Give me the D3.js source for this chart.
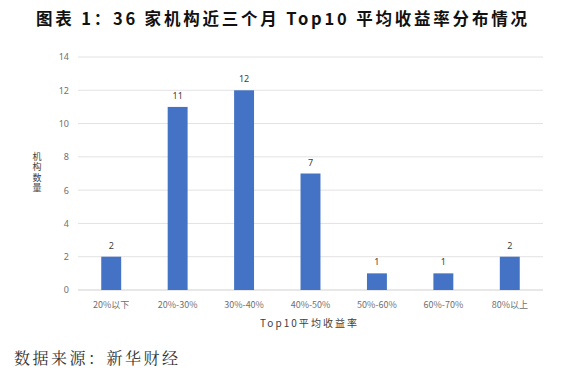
<!DOCTYPE html>
<html><head><meta charset="utf-8">
<script src="https://cdn.jsdelivr.net/npm/d3@7"></script>
<style>
body{margin:0;background:#fff;}
svg{display:block;}
</style></head>
<body><svg id="c" width="569" height="380"></svg>
<script>
const categories = ["20%以下","20%-30%","30%-40%","40%-50%","50%-60%","60%-70%","80%以上"];
const values = [2,11,12,7,1,1,2];
const yTicks = [0,2,4,6,8,10,12,14];
const titleText = "图表 1：36 家机构近三个月 Top10 平均收益率分布情况";
const xTitle = "Top10平均收益率";
const yTitle = "机构数量";
const sourceText = "数据来源：新华财经";

const svg = d3.select("#c");
const plotL = 78, plotR = 543, plotT = 57, plotB = 290;
const x = d3.scaleBand().domain(categories).range([plotL, plotR]).paddingInner(0.7).paddingOuter(0.35);
const y = d3.scaleLinear().domain([0,14]).range([plotB, plotT]);

svg.append("text").attr("x", 36).attr("y", 25)
  .attr("textLength", 491).attr("lengthAdjust","spacing")
  .attr("font-family","'Noto Sans CJK SC', sans-serif").attr("font-weight","bold")
  .attr("font-size",16.5).attr("fill","#111").text(titleText);

// gridlines
svg.append("g").selectAll("line").data(yTicks).join("line")
  .attr("x1", plotL).attr("x2", plotR).attr("y1", d=>y(d)).attr("y2", d=>y(d))
  .attr("stroke", d=> d===0 ? "#d0d0d0" : "#e2e2e2").attr("stroke-width",1);

// y axis labels
const yAxis = d3.axisLeft(y).tickValues(yTicks).tickSize(0).tickPadding(9);
const gy = svg.append("g").attr("transform",`translate(${plotL},0)`).call(yAxis);
gy.select(".domain").remove();
gy.selectAll("text").attr("font-family","'Noto Sans', sans-serif").attr("font-size",9).attr("fill","#707070");

// x axis labels
const xAxis = d3.axisBottom(x).tickSize(0).tickPadding(12);
const gx = svg.append("g").attr("transform",`translate(0,${plotB})`).call(xAxis);
gx.select(".domain").remove();
gx.selectAll("text").attr("font-family","'Noto Sans CJK SC', sans-serif").attr("font-size",9).attr("fill","#707070");

// bars
svg.append("g").selectAll("rect").data(values).join("rect")
  .attr("x",(d,i)=>x(categories[i])).attr("width",x.bandwidth())
  .attr("y",d=>y(d)).attr("height",d=>plotB-y(d)).attr("fill","#4472c4");

// value labels
svg.append("g").selectAll("text").data(values).join("text")
  .attr("x",(d,i)=>x(categories[i])+x.bandwidth()/2).attr("y",d=>y(d)-8)
  .attr("text-anchor","middle").attr("font-family","'Noto Sans', sans-serif")
  .attr("font-size",9).attr("fill","#404040").text(d=>d);

// x title
svg.append("text").attr("x",260).attr("y",327)
  .attr("textLength",97).attr("lengthAdjust","spacing")
  .attr("font-family","'Noto Sans CJK SC', sans-serif").attr("font-size",10).attr("fill","#404040").text(xTitle);

// y title vertical
svg.append("text").attr("x",37).attr("y",152)
  .style("writing-mode","vertical-rl").attr("letter-spacing",1.5)
  .attr("font-family","'Noto Sans CJK SC', sans-serif").attr("font-size",9).attr("fill","#404040").text(yTitle);

// source
svg.append("text").attr("x",14).attr("y",364)
  .attr("textLength",164).attr("lengthAdjust","spacing")
  .attr("font-family","'Noto Serif CJK SC','Noto Sans CJK SC', serif").attr("font-size",16).attr("fill","#333").text(sourceText);
</script></body></html>
